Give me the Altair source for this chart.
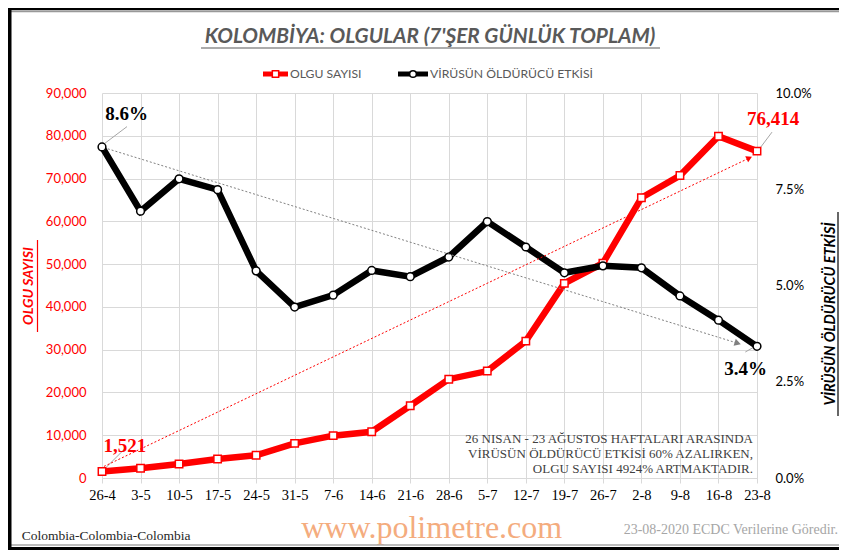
import math
import altair as alt
import pandas as pd

# ---------------- data ----------------
weeks = ["26-4", "3-5", "10-5", "17-5", "24-5", "31-5", "7-6", "14-6", "21-6",
         "28-6", "5-7", "12-7", "19-7", "26-7", "2-8", "9-8", "16-8", "23-8"]
cases = [1521, 2270, 3270, 4440, 5300, 8100, 9900, 10800, 16900,
         23100, 25000, 32000, 45500, 50200, 65500, 70700, 79900, 76414]
cfr = [8.60, 6.93, 7.77, 7.49, 5.38, 4.44, 4.75, 5.39, 5.23,
       5.74, 6.66, 6.00, 5.33, 5.51, 5.46, 4.73, 4.10, 3.42]

case_trend_idx = [0.05, 16.8]
case_trend_val = [2700, 74800]
cfr_trend_idx = [0.15, 16.5]
cfr_trend_val = [8.55, 3.50]

title_text = "KOLOMBİYA: OLGULAR (7'ŞER GÜNLÜK TOPLAM)"
legend_labels = ["OLGU SAYISI", "VİRÜSÜN ÖLDÜRÜCÜ ETKİSİ"]
left_title = "OLGU SAYISI"
right_title = "VİRÜSÜN ÖLDÜRÜCÜ ETKİSİ"
note_lines = ["26 NISAN - 23 AĞUSTOS HAFTALARI ARASINDA",
              "VİRÜSÜN ÖLDÜRÜCÜ ETKİSİ 60% AZALIRKEN,",
              "OLGU SAYISI 4924% ARTMAKTADIR."]
footer_left = "Colombia-Colombia-Colombia"
footer_mid = "www.polimetre.com"
footer_right = "23-08-2020  ECDC  Verilerine  Göredir."

# ---------------- layout ----------------
W, H = 655, 385
CASE_MAX, PCT_MAX = 90000, 10
N = len(weeks)
PX_IDX = W / (N - 1)          # px per category step
CASE_PER_PX = CASE_MAX / H
PCT_PER_PX = PCT_MAX / H

RED = "#FF0000"
GRID = "#d9d9d9"
LEAD = "#a6a6a6"
SERIF = "Liberation Serif"
SANS = "Lato"

idx = list(range(N))
df = pd.DataFrame({"i": idx, "cases": cases, "cfr": cfr})

label_expr = "[" + ",".join(f"'{w}'" for w in weeks) + "][datum.value]"
x_scale = alt.Scale(domain=[0, N - 1], nice=False, zero=False)
x_axis = alt.Axis(values=idx, labelExpr=label_expr, grid=True, gridColor=GRID,
                  domainColor=GRID, tickColor=GRID, tickSize=5, labelFont=SERIF,
                  labelFontSize=14.5, labelColor="#000000", labelPadding=5,
                  labelAngle=0, labelOverlap=False, labelFlush=False, title=None)

case_scale = alt.Scale(domain=[0, CASE_MAX], nice=False, zero=True)
case_axis = alt.Axis(values=list(range(0, CASE_MAX + 1, 10000)), format=",d",
                     grid=True, gridColor=GRID, domain=False, ticks=False,
                     labelColor=RED, labelFont=SANS, labelFontSize=13,
                     labelPadding=16, labelOverlap=False, labelFlush=False,
                     title=None, orient="left")
pct_scale = alt.Scale(domain=[0, PCT_MAX], nice=False, zero=True)
pct_axis = alt.Axis(values=[0, 2.5, 5, 7.5, 10],
                    labelExpr="format(datum.value, '.1f') + '%'",
                    grid=False, domain=False, ticks=False, labelColor="#000000",
                    labelFont=SANS, labelFontSize=13, labelPadding=18,
                    labelOverlap=False, labelFlush=False, title=None, orient="right")


def X(f="i"):
    return alt.X(f"{f}:Q", scale=x_scale, axis=x_axis)


def YC(f, axis=True):
    return alt.Y(f"{f}:Q", scale=case_scale, axis=case_axis if axis else None)


def YP(f, axis=True):
    return alt.Y(f"{f}:Q", scale=pct_scale, axis=pct_axis if axis else None)


def leader(i, val, per_px, start, end):
    # start/end: pixel offsets (dx, dy) from the data point
    return pd.DataFrame({
        "i": [i + start[0] / PX_IDX], "v": [val - start[1] * per_px],
        "i2": [i + end[0] / PX_IDX], "v2": [val - end[1] * per_px]})


def arrow_angle(ix, vals, per_px):
    dx = (ix[1] - ix[0]) * PX_IDX
    dy = -(vals[1] - vals[0]) / per_px
    return math.degrees(math.atan2(dy, dx)) % 360


base = alt.Chart(df)

# ---- case group (left axis) ----
red_line = base.mark_line(color=RED, strokeWidth=6.5).encode(x=X(), y=YC("cases"))
red_pts = base.mark_square(size=55, fill="white", stroke=RED, strokeWidth=1.5,
                           opacity=1).encode(x=X(), y=YC("cases"))
lead_first = alt.Chart(leader(0, cases[0], CASE_PER_PX, (2, -2), (23.3, -23.2))) \
    .mark_rule(color=LEAD, strokeWidth=1).encode(
        x=X(), y=YC("v"), x2="i2:Q", y2="v2:Q")
lead_last = alt.Chart(leader(N - 1, cases[-1], CASE_PER_PX, (3, -3), (15, -19))) \
    .mark_rule(color=LEAD, strokeWidth=1).encode(
        x=X(), y=YC("v"), x2="i2:Q", y2="v2:Q")
lab_df_c = pd.DataFrame({"i": [0, N - 1], "v": [cases[0], cases[-1]],
                         "t": [f"{cases[0]:,}", f"{cases[-1]:,}"]})
lab_first_c = alt.Chart(lab_df_c.iloc[[0]]).mark_text(
    font=SERIF, fontWeight="bold", fontSize=19, color=RED, align="left",
    baseline="alphabetic", dx=1.6, dy=-19.5).encode(x=X(), y=YC("v"), text="t:N")
lab_last_c = alt.Chart(lab_df_c.iloc[[1]]).mark_text(
    font=SERIF, fontWeight="bold", fontSize=19, color=RED, align="left",
    baseline="alphabetic", dx=-10, dy=-25.8).encode(x=X(), y=YC("v"), text="t:N")
case_group = alt.layer(red_line, lead_first, lead_last, red_pts, lab_first_c, lab_last_c)

# ---- pct group (right axis) ----
blk_line = base.mark_line(color="#000000", strokeWidth=6.5).encode(x=X(), y=YP("cfr"))
blk_pts = base.mark_circle(size=60, fill="white", stroke="#000000", strokeWidth=1.5,
                           opacity=1).encode(x=X(), y=YP("cfr"))
lead_first_p = alt.Chart(leader(0, cfr[0], PCT_PER_PX, (3, -3.7), (25, -20.3))) \
    .mark_rule(color=LEAD, strokeWidth=1).encode(
        x=X(), y=YP("v"), x2="i2:Q", y2="v2:Q")
lead_last_p = alt.Chart(leader(N - 1, cfr[-1], PCT_PER_PX, (-3.5, 1), (-11.7, 5.7))) \
    .mark_rule(color=LEAD, strokeWidth=1).encode(
        x=X(), y=YP("v"), x2="i2:Q", y2="v2:Q")
lab_df_p = pd.DataFrame({"i": [0, N - 1], "v": [cfr[0], cfr[-1]],
                         "t": [f"{cfr[0]:.1f}%", f"{cfr[-1]:.1f}%"]})
lab_first_p = alt.Chart(lab_df_p.iloc[[0]]).mark_text(
    font=SERIF, fontWeight="bold", fontSize=19, color="#000000", align="left",
    baseline="alphabetic", dx=3.3, dy=-27).encode(x=X(), y=YP("v"), text="t:N")
lab_last_p = alt.Chart(lab_df_p.iloc[[1]]).mark_text(
    font=SERIF, fontWeight="bold", fontSize=19, color="#000000", align="left",
    baseline="alphabetic", dx=-32.7, dy=28.5).encode(x=X(), y=YP("v"), text="t:N")
pct_group = alt.layer(blk_line, lead_first_p, lead_last_p, blk_pts, lab_first_p, lab_last_p)

# ---- trend arrows ----
ct = pd.DataFrame({"i": case_trend_idx, "v": case_trend_val})
pt = pd.DataFrame({"i": cfr_trend_idx, "v": cfr_trend_val})
case_trend = alt.layer(
    alt.Chart(ct).mark_line(color=RED, strokeWidth=1, strokeDash=[2, 2]).encode(
        x=X(), y=YC("v", axis=False)),
    alt.Chart(ct.iloc[[1]]).mark_point(
        shape="triangle-right", filled=True, color=RED, opacity=1, size=45,
        angle=arrow_angle(case_trend_idx, case_trend_val, CASE_PER_PX)).encode(
        x=X(), y=YC("v", axis=False)),
)
pct_trend = alt.layer(
    alt.Chart(pt).mark_line(color="#808080", strokeWidth=1, strokeDash=[2, 2]).encode(
        x=X(), y=YP("v", axis=False)),
    alt.Chart(pt.iloc[[1]]).mark_point(
        shape="triangle-right", filled=True, color="#808080", opacity=1, size=55,
        angle=arrow_angle(cfr_trend_idx, cfr_trend_val, PCT_PER_PX)).encode(
        x=X(), y=YP("v", axis=False)),
)

# ---- decorations (pixel positioned, plot-area coordinates) ----
one = pd.DataFrame({"k": [0]})


def hrule(x1, x2, y, color, w):
    return alt.Chart(one).mark_rule(color=color, strokeWidth=w).encode(
        x=alt.value(x1), x2=alt.value(x2), y=alt.value(y))


def vrule(x, y1, y2, color, w):
    return alt.Chart(one).mark_rule(color=color, strokeWidth=w).encode(
        x=alt.value(x), y=alt.value(y1), y2=alt.value(y2))


def label(text, x, y, **kw):
    return alt.Chart(one).mark_text(text=text, **kw).encode(
        x=alt.value(x), y=alt.value(y))


decor = [
    # title
    label(title_text, 328, -56, font=SANS, fontSize=20.8, fontWeight="bold",
          fontStyle="italic", color="#595959", align="center", baseline="middle"),
    hrule(99, 558, -45, "#595959", 1.2),
    # legend
    hrule(161, 186, -19, RED, 5),
    alt.Chart(one).mark_square(size=40, fill="white", stroke=RED, strokeWidth=1.5,
                               opacity=1).encode(x=alt.value(173.5), y=alt.value(-19)),
    label(legend_labels[0], 188, -19, font=SANS, fontSize=12.2, color="#595959",
          align="left", baseline="middle"),
    hrule(296, 326, -19, "#000000", 5),
    alt.Chart(one).mark_circle(size=45, fill="white", stroke="#000000", strokeWidth=1.5,
                               opacity=1).encode(x=alt.value(311), y=alt.value(-19)),
    label(legend_labels[1], 328, -19, font=SANS, fontSize=12.2, color="#595959",
          align="left", baseline="middle"),
    # axis titles
    label(left_title, -73, 193, font=SANS, fontSize=14, fontWeight="bold",
          fontStyle="italic", color=RED, align="center", baseline="middle", angle=270),
    vrule(-64.5, 147, 239, RED, 1.2),
    label(right_title, 729, 221, font=SANS, fontSize=14.5, fontWeight="bold",
          fontStyle="italic", color="#000000", align="center", baseline="middle",
          angle=270),
    vrule(736, 119, 323, "#000000", 1.2),
    # note
    label(note_lines[0], 651, 350.3, font=SERIF, fontSize=13, color="#404040",
          align="right", baseline="alphabetic"),
    label(note_lines[1], 651, 365, font=SERIF, fontSize=13, color="#404040",
          align="right", baseline="alphabetic"),
    label(note_lines[2], 651, 379.7, font=SERIF, fontSize=13, color="#404040",
          align="right", baseline="alphabetic"),
    # footer
    label(footer_left, -80.3, 447, font=SERIF, fontSize=13.5, color="#262626",
          align="left", baseline="alphabetic"),
    label(footer_mid, 329.7, 445, font=SERIF, fontSize=32, color="#F4AC7E",
          align="center", baseline="alphabetic"),
    label(footer_right, 736, 441, font=SERIF, fontSize=14, color="#a6a6a6",
          align="right", baseline="alphabetic"),
    # frame
    hrule(-94, 737, -84, "#000000", 2.5),
    hrule(-94, 737, -81.5, "#999999", 1.5),
    hrule(-94, 737, 452, "#a6a6a6", 1.5),
    hrule(-94, 737, 455.5, "#000000", 3),
    vrule(-92.5, -85, 457, "#000000", 4),
]

chart = alt.layer(case_group, pct_group, case_trend, pct_trend, *decor).resolve_scale(
    y="independent"
).properties(
    width=W, height=H,
    padding={"left": 94, "top": 85, "right": 82, "bottom": 72},
    autosize=alt.AutoSizeParams(type="none"),
    background="white",
).configure_view(stroke=None)

chart.save("out.html", embed_options={"renderer": "svg", "actions": False})
